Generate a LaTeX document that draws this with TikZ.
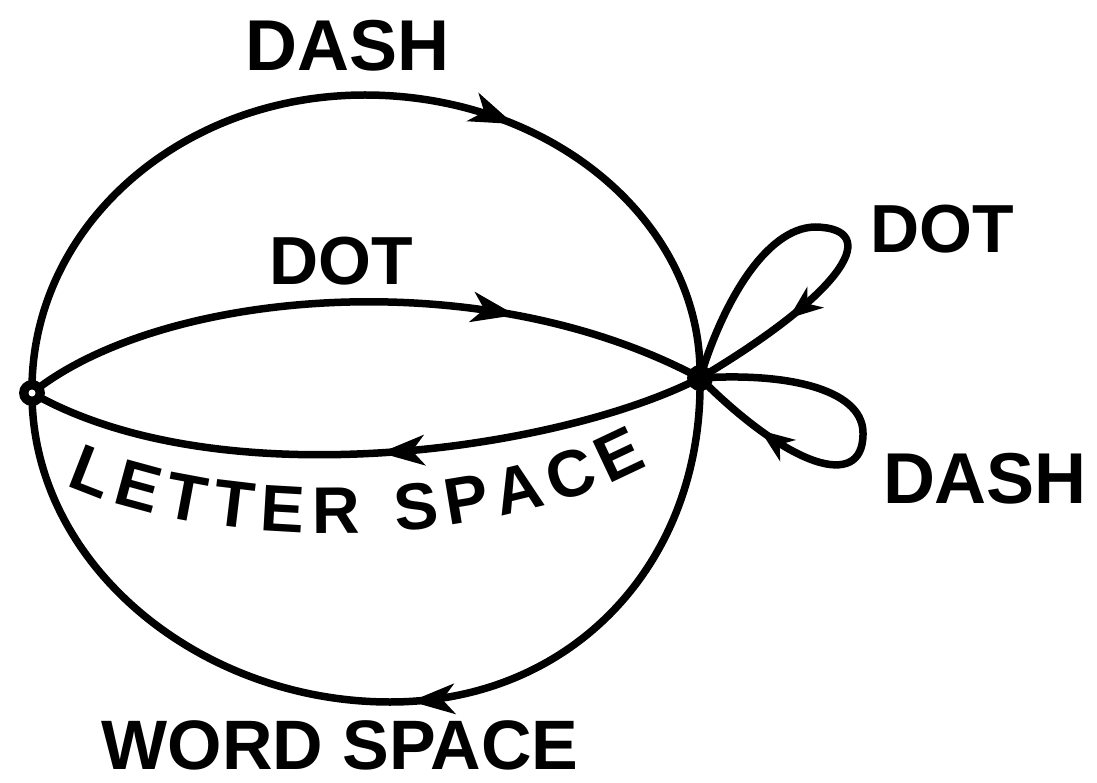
\documentclass[tikz,border=0pt]{standalone}
\usepackage{fontspec}
\setmainfont{Liberation Sans}
\usetikzlibrary{arrows.meta,decorations.markings,decorations.text}
\tikzset{
  myhead/.tip={Stealth[length=44pt,width=30pt,inset=12pt]},
  smallhead/.tip={Stealth[length=34pt,width=26pt,inset=10pt]},
  edge/.style={line width=7.5pt,line cap=round,line join=round},
  midarrow/.style={postaction={decorate,decoration={markings,mark=at position #1 with {\arrow{myhead}}}}},
  loopmark/.style={postaction={decorate,decoration={markings,mark=at position #1 with {\arrow{smallhead}}}}},
  vertex/.style={circle,fill=black,inner sep=0pt,minimum size=26pt},
  lab/.style={font=\fontsize{72}{72}\selectfont\bfseries,inner sep=0pt,anchor=center},
}
\begin{document}
\begin{tikzpicture}[x=1pt,y=-1pt]
\useasboundingbox (0,0) rectangle (1097,783);
\node[vertex] (L) at (32,393) {};
\node[vertex] (R) at (700,378) {};
% outer circle, upper half
\draw[edge,midarrow=0.66] (L.center) .. controls (30,228) and (179,95) .. (365,95)
   .. controls (551,95) and (703,222) .. (R.center);
% outer circle, lower half
\draw[edge,midarrow=0.47] (R.center) .. controls (703,560) and (575,702) .. (390,702)
   .. controls (200,702) and (32,565) .. (L.center);
% inner DOT arc
\draw[edge,midarrow=0.72] (L.center) .. controls (160,290) and (480,260) .. (R.center);
% LETTER SPACE arc
\draw[edge,midarrow=0.48] (R.center) .. controls (560,450) and (220,500) .. (L.center);
% DOT loop
\draw[edge,loopmark=0.76] (R.center) .. controls (722,305) and (765,228) .. (815,227)
   .. controls (882,228) and (848,290) .. (R.center);
% DASH loop
\draw[edge,loopmark=0.80] (R.center) .. controls (795,372) and (865,392) .. (863,435)
   .. controls (862,490) and (790,468) .. (R.center);
\fill[white] (L.center) circle (3.5);
% labels
\node[lab] (tdash) at (348,46) {DASH};
\node[lab,font=\fontsize{68}{68}\selectfont\bfseries] (mdot) at (341,261) {DOT};
\node[lab,font=\fontsize{68}{68}\selectfont\bfseries] (rdot) at (942,229) {DOT};
\node[lab] (rdash) at (985,479) {DASH};
\node[lab,font=\fontsize{70}{70}\selectfont\bfseries] (word) at (340,745) {WORD SPACE};
\path[decorate,decoration={text along path,
   text={|\fontsize{66}{66}\selectfont\bfseries|LETTER SPACE},
   text align={fit to path}}]
   (66,485) .. controls (210,550) and (480,555) .. (648,465);
\end{tikzpicture}
\end{document}
